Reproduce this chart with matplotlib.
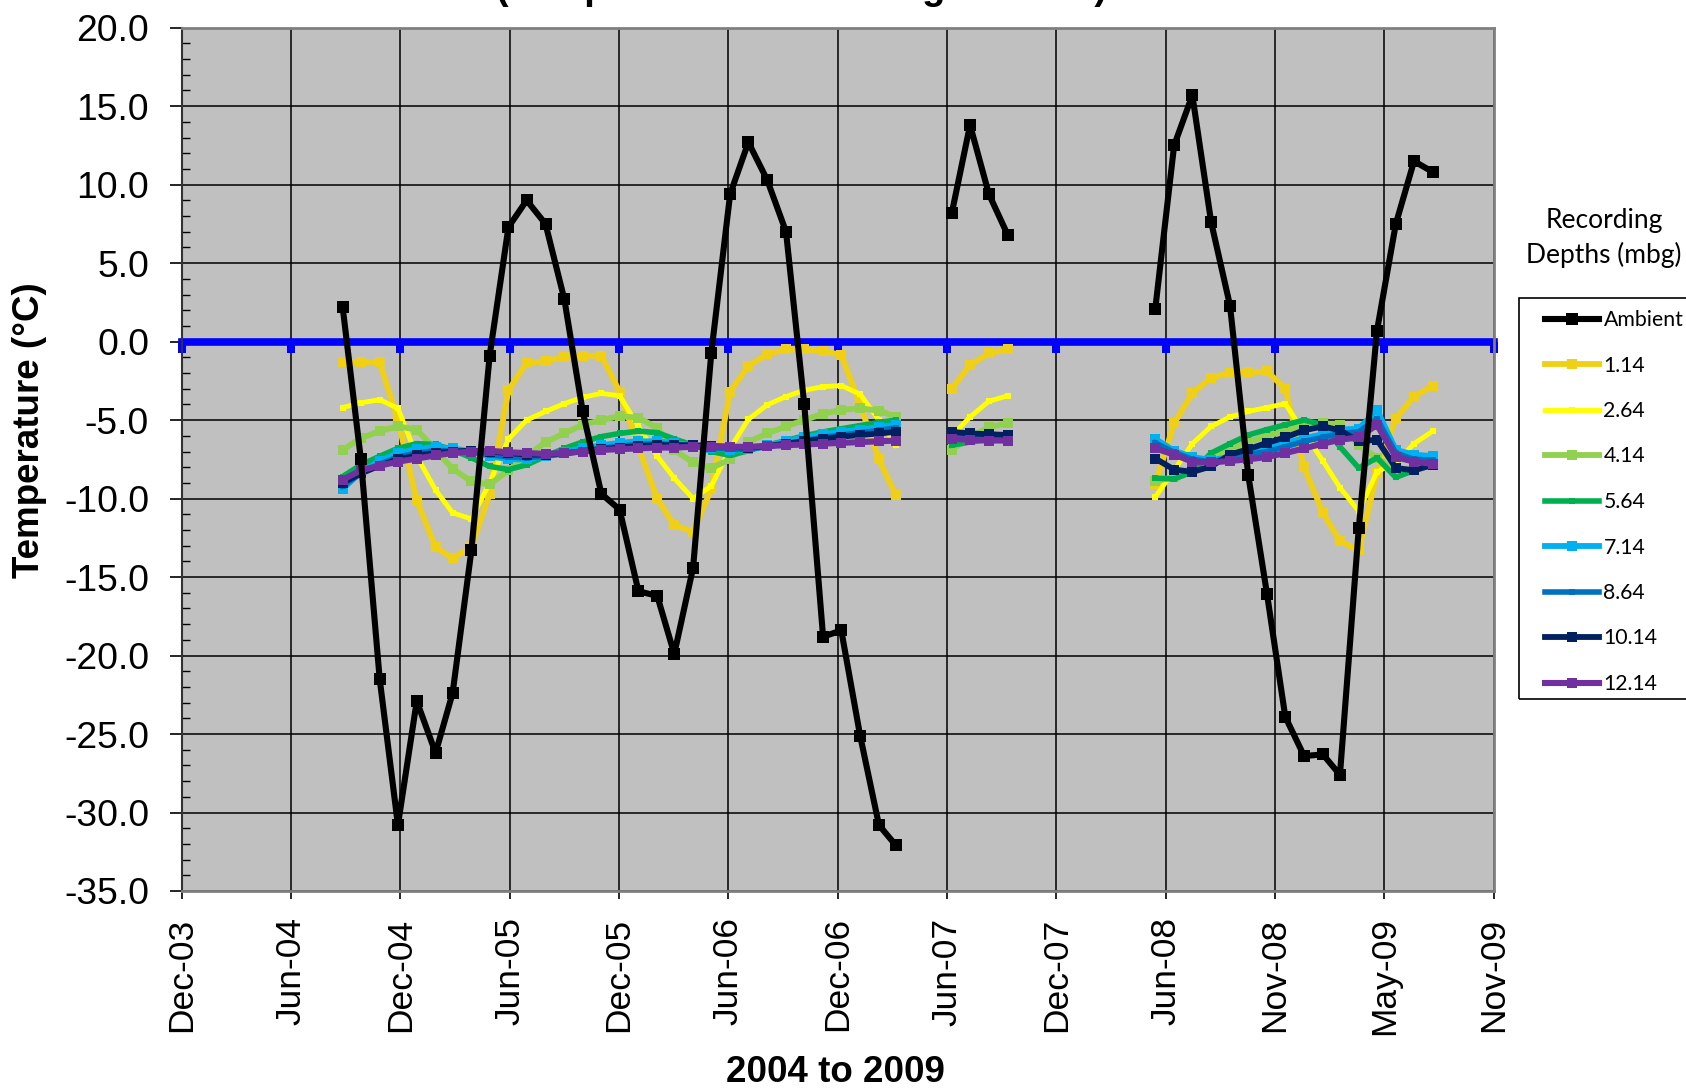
import numpy as np
import matplotlib
matplotlib.use("Agg")
import matplotlib.pyplot as plt
import matplotlib.dates as mdates
from matplotlib.patches import Rectangle
from matplotlib.ticker import MultipleLocator, FormatStrFormatter

plt.rcParams["axes.unicode_minus"] = False

nan = np.nan

# monthly readings, Sep-2004 .. Aug-2009 (gaps = no data)
months = np.arange("2004-09", "2009-09", dtype="datetime64[M]").astype("datetime64[D]") + 14
GAP_A = [nan] * 2   # Apr-07, May-07
GAP_B = [nan] * 7   # Oct-07 .. Apr-08

ambient = [2.2, -7.5, -21.5, -30.8, -22.9, -26.2, -22.4, -13.3, -0.9, 7.3, 9.0, 7.5, 2.7, -4.4, -9.7, -10.7,
           -15.9, -16.2, -19.9, -14.4, -0.7, 9.4, 12.7, 10.3, 7.0, -4.0, -18.8, -18.4, -25.1, -30.8, -32.1] \
    + GAP_A + [8.2, 13.8, 9.4, 6.8] + GAP_B \
    + [2.1, 12.5, 15.7, 7.6, 2.3, -8.5, -16.1, -23.9, -26.4, -26.3, -27.6, -11.9, 0.7, 7.5, 11.5, 10.8]

d114 = [-1.3, -1.3, -1.3, -5.0, -10.1, -13.1, -13.8, -13.1, -9.7, -3.1, -1.35, -1.25, -1.0, -0.9, -0.9, -3.2,
        -6.7, -10.0, -11.7, -12.1, -9.4, -3.2, -1.55, -0.8, -0.5, -0.5, -0.6, -0.85, -4.0, -7.5, -9.8] \
    + GAP_A + [-3.0, -1.5, -0.75, -0.5] + GAP_B \
    + [-9.1, -5.2, -3.3, -2.3, -2.0, -1.95, -1.9, -3.0, -8.0, -10.9, -12.7, -13.3, -8.4, -4.9, -3.5, -2.8]

d264 = [-4.2, -3.9, -3.7, -4.25, -7.3, -9.45, -10.9, -11.3, -9.0, -6.2, -5.0, -4.45, -3.95, -3.55, -3.3, -3.45,
        -5.4, -7.3, -8.7, -10.0, -9.2, -6.8, -4.95, -4.03, -3.5, -3.1, -2.87, -2.8, -3.35, -5.0, -6.6] \
    + GAP_A + [-6.0, -4.8, -3.8, -3.45] + GAP_B \
    + [-9.9, -8.2, -6.5, -5.4, -4.8, -4.45, -4.2, -3.95, -5.8, -7.6, -9.3, -10.8, -8.3, -7.7, -6.5, -5.7]

d414 = [-6.9, -6.15, -5.7, -5.4, -5.6, -6.9, -8.1, -8.9, -9.1, -8.2, -7.3, -6.4, -5.85, -5.3, -5.0, -4.75,
        -4.85, -5.5, -6.9, -7.7, -8.05, -7.5, -6.4, -5.85, -5.4, -5.0, -4.6, -4.35, -4.25, -4.4, -4.8] \
    + GAP_A + [-6.9, -6.1, -5.45, -5.2] + GAP_B \
    + [-8.9, -8.6, -8.0, -7.4, -6.9, -6.4, -6.0, -5.7, -5.4, -5.2, -5.3, -6.6, -7.4, -8.3, -8.0, -7.7]

d564 = [-8.6, -7.85, -7.3, -6.8, -6.5, -6.55, -6.9, -7.4, -7.95, -8.15, -7.85, -7.3, -6.8, -6.4, -6.05, -5.85,
        -5.7, -5.8, -6.2, -6.6, -7.0, -7.25, -6.95, -6.6, -6.3, -6.0, -5.75, -5.55, -5.35, -5.15, -5.0] \
    + GAP_A + [-6.6, -6.4, -6.25, -6.1] + GAP_B \
    + [-8.7, -8.75, -8.3, -7.1, -6.5, -5.95, -5.6, -5.3, -5.0, -5.3, -6.7, -8.05, -7.4, -8.65, -8.2, -7.85]

d714 = [-9.4, -8.3, -7.6, -7.1, -6.85, -6.7, -6.8, -7.0, -7.3, -7.5, -7.5, -7.3, -7.0, -6.8, -6.6, -6.45,
        -6.35, -6.35, -6.45, -6.6, -6.75, -6.9, -6.85, -6.6, -6.35, -6.1, -5.9, -5.75, -5.6, -5.45, -5.3] \
    + GAP_A + [-5.9, -6.0, -6.05, -6.1] + GAP_B \
    + [-6.2, -6.95, -7.35, -7.55, -7.35, -7.1, -6.8, -6.45, -6.15, -5.9, -5.6, -5.55, -4.35, -6.9, -7.2, -7.3]

d864 = [-9.2, -8.4, -7.8, -7.35, -7.1, -6.95, -6.95, -7.05, -7.2, -7.35, -7.4, -7.3, -7.15, -6.95, -6.8, -6.65,
        -6.55, -6.5, -6.55, -6.65, -6.75, -6.85, -6.85, -6.7, -6.5, -6.3, -6.1, -5.95, -5.8, -5.65, -5.5] \
    + GAP_A + [-5.85, -5.95, -6.0, -6.05] + GAP_B \
    + [-6.45, -7.05, -7.5, -7.65, -7.45, -7.2, -7.0, -6.7, -6.35, -6.1, -5.85, -5.75, -4.9, -7.1, -7.5, -7.55]

d1014 = [-9.0, -8.4, -7.9, -7.5, -7.25, -7.1, -7.0, -6.95, -7.0, -7.1, -7.2, -7.2, -7.1, -7.0, -6.85, -6.75,
         -6.65, -6.6, -6.6, -6.6, -6.65, -6.7, -6.75, -6.65, -6.5, -6.35, -6.2, -6.05, -5.95, -5.85, -5.75] \
    + GAP_A + [-5.75, -5.85, -5.9, -5.95] + GAP_B \
    + [-7.45, -8.15, -8.3, -7.95, -7.2, -6.85, -6.45, -6.1, -5.65, -5.4, -5.65, -6.35, -6.25, -8.05, -8.2, -7.85]

d1214 = [-8.8, -8.2, -7.9, -7.65, -7.45, -7.25, -7.1, -7.0, -6.95, -7.05, -7.1, -7.15, -7.1, -7.0, -6.9, -6.85,
         -6.8, -6.75, -6.75, -6.7, -6.7, -6.7, -6.7, -6.65, -6.6, -6.55, -6.5, -6.45, -6.4, -6.35, -6.3] \
    + GAP_A + [-6.2, -6.25, -6.3, -6.3] + GAP_B \
    + [-6.8, -7.2, -7.65, -7.7, -7.6, -7.5, -7.35, -7.1, -6.8, -6.5, -6.25, -6.1, -5.3, -7.35, -7.65, -7.8]

# axis: 180-day steps from 25-Dec-2003
tick_dates = np.datetime64("2003-12-25") + 180 * np.arange(13)
tick_labels = ["Dec-03", "Jun-04", "Dec-04", "Jun-05", "Dec-05", "Jun-06", "Dec-06",
               "Jun-07", "Dec-07", "Jun-08", "Nov-08", "May-09", "Nov-09"]
zero_line = [0.0] * 13

labels = ["Ambient", "1.14", "2.64", "4.14", "5.64", "7.14", "8.64", "10.14", "12.14"]
series = [ambient, d114, d264, d414, d564, d714, d864, d1014, d1214]
colors = ["#000000", "#EFD016", "#FFFF00", "#92D050", "#00B050", "#00B0F0", "#0070C0", "#002060", "#7030A0"]
msizes = [8.0, 7.5, 5.0, 7.5, 5.0, 7.5, 5.0, 7.5, 7.5]
lwidths = [4.4, 4.2, 3.5, 4.2, 4.0, 4.2, 4.0, 4.2, 4.4]

fig = plt.figure(figsize=(16.86, 10.88), dpi=100)
ax = fig.add_axes([181.7 / 1686, 1 - 891 / 1088, 1311.9 / 1686, 863.3 / 1088])
ax.set_facecolor("#C0C0C0")

x = mdates.date2num(months)
xt = mdates.date2num(tick_dates)

# blue 0 line with square markers hanging under it
hang = [(-0.33, 0), (0.33, 0), (0.33, -1), (-0.33, -1)]
ax.plot(xt, zero_line, color="#0000FF", lw=5.5, marker=hang, ms=16, mew=0, clip_on=False, zorder=2,
        label="_nolegend_")

handles = []
for i, (vals, lab) in enumerate(zip(series, labels)):
    z = 12 if i == 0 else 3 + i
    h, = ax.plot(x, vals, color=colors[i], lw=lwidths[i], marker="s", ms=msizes[i], mew=0,
                 label=lab, zorder=z)
    handles.append(h)

ax.set_xlim(xt[0], xt[-1])
ax.set_ylim(-35, 20)
ax.set_xticks(xt)
ax.set_xticklabels(tick_labels, rotation=90, fontfamily="Liberation Sans", fontsize=25.5)
ax.yaxis.set_major_locator(MultipleLocator(5))
ax.yaxis.set_minor_locator(MultipleLocator(1))
ax.yaxis.set_major_formatter(FormatStrFormatter("%.1f"))
for t in ax.get_yticklabels():
    t.set_fontfamily("Liberation Sans")
    t.set_fontsize(26.8)

ax.tick_params(axis="y", which="major", direction="out", length=8.5, width=1.2, pad=15)
ax.tick_params(axis="y", which="minor", direction="in", length=5.5, width=1.0)
ax.tick_params(axis="x", which="major", direction="out", length=6, width=1.2, pad=13)
ax.grid(True, which="major", color="black", lw=1.1, zorder=1)
ax.set_axisbelow(True)
for s in ["top", "right", "bottom"]:
    ax.spines[s].set_color("#808080")
    ax.spines[s].set_linewidth(2)
ax.spines["left"].set_color("#333333")
ax.spines["left"].set_linewidth(1.5)

# chart title sits above the canvas in the original; only its lower edge shows
fig.text(801 / 1686, 1 + 1 / 1088, "(Temperature Monitoring Results)", ha="center", va="baseline",
         fontfamily="Liberation Sans", fontweight="bold", fontsize=27.5)
fig.text(30 / 1686, 1 - 430 / 1088, "Temperature (°C)", rotation=90, ha="center", va="center",
         fontfamily="Liberation Sans", fontweight="bold", fontsize=26.5)
fig.text(835.5 / 1686, 1 - 1072 / 1088, "2004 to 2009", ha="center", va="center",
         fontfamily="Liberation Sans", fontweight="bold", fontsize=26.5)

# legend title and box
fig.text(1604 / 1686, 1 - 238 / 1088, "Recording\nDepths (mbg)", ha="center", va="center",
         fontfamily="Lato", fontsize=19, linespacing=1.45)
fig.add_artist(Rectangle((1519 / 1686, 1 - 699 / 1088), 0.2, (699 - 298) / 1088, transform=fig.transFigure,
                         fill=False, ec="black", lw=1.2))
fig.legend(handles, labels, loc="upper left", bbox_to_anchor=(1545 / 1686, 1 - 310 / 1088),
           frameon=False, borderpad=0, borderaxespad=0, handlelength=2.55, handletextpad=0.2,
           labelspacing=1.2, prop={"family": "Lato", "size": 15.3})

fig.savefig("out.png", dpi=100)
